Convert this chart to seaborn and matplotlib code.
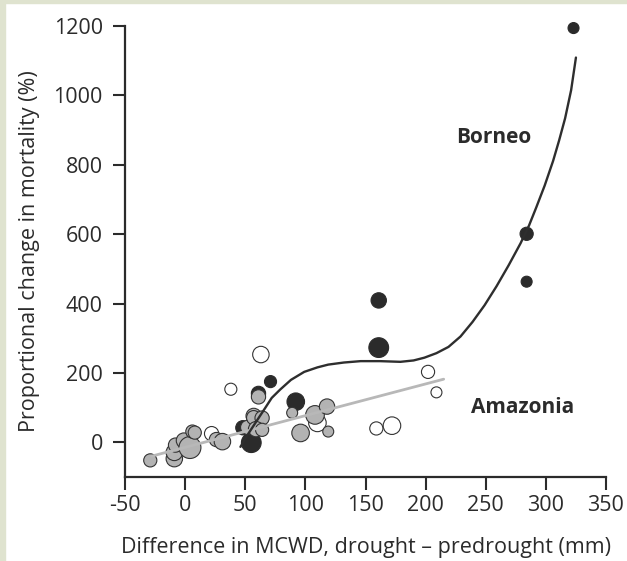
import matplotlib
matplotlib.use("Agg")
import matplotlib.pyplot as plt
from matplotlib.patches import Rectangle
import numpy as np
import pandas as pd
import seaborn as sns

# Borneo plots (black)
borneo_x = [323, 284, 284, 161, 161, 92, 71, 61, 48, 55]
borneo_y = [1194, 601, 463, 409, 273, 117, 175, 141, 42, -1]
borneo_d = [10, 12, 10, 14, 18, 16, 11, 13, 13, 18]

# Amazonia plots, grey filled
amaz_x = [-29, -9, -9, -8, -1, 4, 6, 8, 26, 31, 52, 57, 57, 64, 59, 64, 61, 89, 108, 96, 118, 119]
amaz_y = [-52, -47, -29, -8, 5, -15, 31, 28, 8, 2, 43, 76, 71, 70, 38, 36, 131, 85, 79, 27, 103, 31]
amaz_d = [12, 15, 15, 13, 14, 20, 12, 12, 13, 15, 13, 14, 13, 13, 14, 12, 13, 10, 17, 16, 14, 10]

# Amazonia plots, open
open_x = [22, 38, 63, 110, 159, 172, 202, 209]
open_y = [25, 153, 253, 56, 40, 48, 203, 144]
open_d = [13, 11, 15, 16, 12, 16, 12, 10]

# fitted curves
borneo_fit_x = [46, 52, 59, 66, 72, 79, 88, 99, 110, 119, 132, 146, 162, 179, 190, 199,
                209, 219, 229, 239, 249, 259, 269, 279, 286, 292, 299, 306, 311, 316, 321, 325]
borneo_fit_y = [-13, 22, 59, 96, 128, 152, 180, 203, 216, 224, 230, 234, 234, 232, 236, 244,
                257, 275, 305, 347, 395, 450, 510, 574, 625, 677, 740, 811, 870, 934, 1015, 1109]
amaz_fit_x = [-28, 215]
amaz_fit_y = [-40, 182]

xticks = [-50, 0, 50, 100, 150, 200, 250, 300, 350]
yticks = [0, 200, 400, 600, 800, 1000, 1200]

sns.set_style("ticks")
plt.rcParams['font.family'] = ['Open Sans', 'DejaVu Sans']
txt = '#2b2b2b'

fig = plt.figure(figsize=(6.27, 5.61), dpi=100)
fig.patches.append(Rectangle((0, 0), 5 / 627, 1, transform=fig.transFigure,
                             color='#dfe3cf', zorder=0))
fig.patches.append(Rectangle((0, 1 - 3 / 561), 1, 3 / 561, transform=fig.transFigure,
                             color='#dfe3cf', zorder=0))
ax = fig.add_axes([0.1994, 0.1497, 0.7671, 0.804])


def to_s(d):
    return [(v * 0.79) ** 2 for v in d]


sns.scatterplot(x=borneo_x, y=borneo_y, s=to_s(borneo_d), color='#2b2b2b',
                edgecolor='#2b2b2b', linewidth=0.8, ax=ax, zorder=2, clip_on=False)
sns.scatterplot(x=open_x, y=open_y, s=to_s(open_d), color='white',
                edgecolor='#333333', linewidth=0.8, ax=ax, zorder=2.5)
sns.scatterplot(x=amaz_x, y=amaz_y, s=to_s(amaz_d), color='#b3b3b3',
                edgecolor='#333333', linewidth=0.8, ax=ax, zorder=3)
sns.lineplot(x=amaz_fit_x, y=amaz_fit_y, color='#b8b8b8', linewidth=2.0, ax=ax,
             zorder=4, sort=False)
sns.lineplot(x=borneo_fit_x, y=borneo_fit_y, color='#2e2e2e', linewidth=1.7, ax=ax,
             zorder=5, sort=False)

ax.text(257, 880, 'Borneo', fontsize=15, fontweight='bold', color=txt,
        ha='center', va='center')
ax.text(281, 100, 'Amazonia', fontsize=15, fontweight='bold', color=txt,
        ha='center', va='center')

ax.set_xlim(-50, 350)
ax.set_ylim(-100, 1200)
ax.set_xticks(xticks)
ax.set_yticks(yticks)
ax.set_xticklabels([str(t) for t in xticks])
ax.set_yticklabels([str(t) for t in yticks])
ax.tick_params(axis='both', direction='out', length=9, width=1.5, colors='#2b2b2b',
               labelsize=15.5, labelcolor=txt)
ax.tick_params(axis='y', pad=7)
ax.tick_params(axis='x', pad=4)
for side in ['top', 'right']:
    ax.spines[side].set_visible(False)
for side in ['left', 'bottom']:
    ax.spines[side].set_linewidth(1.6)
    ax.spines[side].set_color('#2b2b2b')

ax.set_xlabel('Difference in MCWD, drought \u2013 predrought (mm)', fontsize=15.5,
              color=txt, labelpad=15)
ax.set_ylabel('Proportional change in mortality (%)', fontsize=15.5, color=txt,
              labelpad=10)

fig.savefig('out.png', dpi=100, facecolor='white')
